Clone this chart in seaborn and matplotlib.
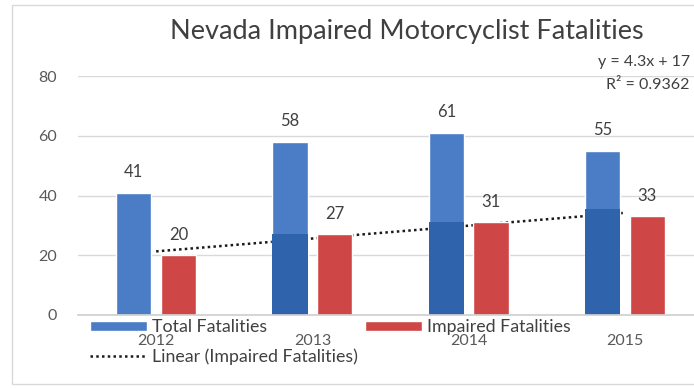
import numpy as np
import pandas as pd
import matplotlib
matplotlib.use("Agg")
import matplotlib.pyplot as plt
from matplotlib.patches import Rectangle
from matplotlib.lines import Line2D
import seaborn as sns

years = ["2012", "2013", "2014", "2015"]
total_fatalities = [41, 58, 61, 55]
impaired_fatalities = [20, 27, 31, 33]
series_names = ["Total Fatalities", "Impaired Fatalities"]
y_ticks = [0, 20, 40, 60, 80]

sns.set_theme(style="white")
plt.rcParams["font.family"] = ["Lato", "DejaVu Sans"]

BLUE = "#4a7dc6"
BLUE_DARK = "#2f63ab"
RED = "#cf4646"
TEXT = "#404040"

df = pd.DataFrame({
    "year": years * 2,
    "value": total_fatalities + impaired_fatalities,
    "series": [series_names[0]] * len(years) + [series_names[1]] * len(years),
})

fig = plt.figure(figsize=(6.94, 3.88), dpi=100)
W, H = 694, 388
ax = fig.add_axes([78 / W, 1 - 315 / H, (703 - 78) / W, (315 - 76) / H])

sns.barplot(data=df, x="year", y="value", hue="series", order=years,
            hue_order=series_names, palette=[BLUE, RED], width=0.572,
            gap=0.21, saturation=1, ax=ax, legend=False, zorder=2)

# linear trend of impaired fatalities (x = 1..n)
xs = np.arange(1, len(years) + 1)
slope, intercept = np.polyfit(xs, impaired_fatalities, 1)
pred = slope * xs + intercept
r2 = 1 - np.sum((np.array(impaired_fatalities) - pred) ** 2) / np.sum(
    (np.array(impaired_fatalities) - np.mean(impaired_fatalities)) ** 2)
ax.plot(np.arange(len(years)), pred, linestyle=(0, (1, 1.3)), color="#1a1a1a",
        linewidth=1.8, zorder=1.5)

# darker lower section on the total bars that the trend line passes behind
blue_container = ax.containers[0]
for patch in blue_container.patches:
    cx = patch.get_x() + patch.get_width() / 2
    if cx < 0:
        continue
    level = slope * (cx + 1) + intercept + 2
    ax.add_patch(Rectangle((patch.get_x(), 0), patch.get_width(), min(level, patch.get_height()),
                           facecolor=BLUE_DARK, edgecolor="none", zorder=2.1))

for cont in ax.containers:
    ax.bar_label(cont, padding=9, fontsize=12, color=TEXT)

ax.set_xlim(-0.5, 3.5)
ax.set_ylim(0, 80)
ax.set_yticks(y_ticks)
ax.set_xlabel("")
ax.set_ylabel("")
ax.grid(axis="y", color="#d9d9d9", linewidth=1)
ax.set_axisbelow(True)
for side in ["top", "right", "left"]:
    ax.spines[side].set_visible(False)
ax.spines["bottom"].set_color("#d0d0d0")
ax.tick_params(axis="both", length=0, labelsize=11.5, labelcolor="#595959")
ax.tick_params(axis="x", pad=14)
ax.tick_params(axis="y", pad=15)

fig.text(407 / W, 1 - 32 / H, "Nevada Impaired Motorcyclist Fatalities",
         ha="center", va="center", fontsize=19.5, color=TEXT)
fig.text(690 / W, 1 - 62 / H, f"y = {slope:.1f}x + {intercept:.0f}",
         ha="right", va="center", fontsize=11.5, color=TEXT)
fig.text(690 / W, 1 - 85 / H, f"R² = {r2:.4f}",
         ha="right", va="center", fontsize=11.5, color=TEXT)

handles = [
    Rectangle((0, 0), 1, 1, facecolor=BLUE),
    Line2D([0], [0], color="#1a1a1a", linestyle=(0, (1, 1.3)), linewidth=1.8),
    Rectangle((0, 0), 1, 1, facecolor=RED),
]
labels = [series_names[0], "Linear (Impaired Fatalities)", series_names[1]]
fig.legend(handles, labels, loc="upper left", bbox_to_anchor=(90 / W, 1 - 319 / H),
           ncol=2, frameon=False, fontsize=12.8, handlelength=3.2, handleheight=0.5,
           handletextpad=0.3, columnspacing=0.4, labelspacing=0.75, borderpad=0,
           borderaxespad=0, labelcolor=TEXT)

# chart frame
fig.patches.append(Rectangle((12 / W, 1 - 384 / H), 1.0, (384 - 5) / H,
                             transform=fig.transFigure, fill=False,
                             edgecolor="#d9d9d9", linewidth=1))

fig.savefig("out.png", dpi=100)
